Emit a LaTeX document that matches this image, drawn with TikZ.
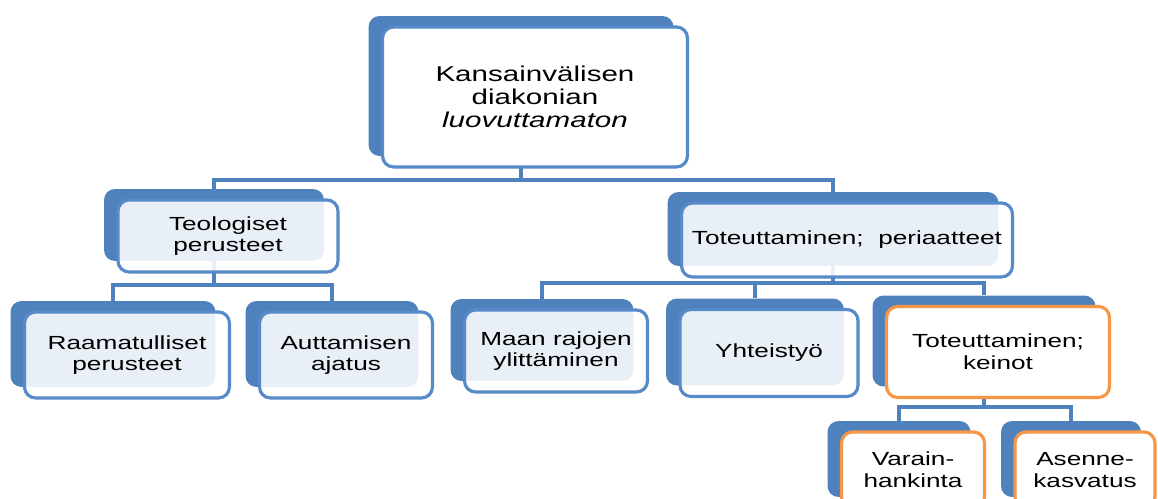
\documentclass[tikz,border=0pt]{standalone}
\usepackage{fontspec}
\setmainfont{Liberation Sans}[FakeStretch=1.38]
\usetikzlibrary{positioning, backgrounds}
\definecolor{Blue}{RGB}{79,129,189}
\definecolor{FrameBlue}{RGB}{86,138,200}
\definecolor{Orange}{RGB}{247,150,70}

\tikzset{
  card/.style 2 args={rectangle, rounded corners=0.22cm, inner sep=0pt,
    minimum width=#1, minimum height=#2},
  backbox/.style={fill=Blue, draw=none},
  frontbox/.style={draw=FrameBlue, line width=1.8pt, fill=white,
    fill opacity=0.88, text opacity=1, align=center,
    font=\fontsize{10.8}{12.4}\selectfont},
  keybox/.style={frontbox, draw=Orange, fill opacity=1},
  conn/.style={draw=Blue, line width=2pt},
}

\begin{document}
\begin{tikzpicture}[x=0.02cm, y=-0.02cm]

    \useasboundingbox (0,0) rectangle (1158,499);
    \clip (0,0) rectangle (1158,499);

    % top box
    \node[card={6.1cm}{2.8cm}, backbox] (top) at (521,86) {};
    \node[card={6.1cm}{2.8cm}, frontbox, fill opacity=1,
        font=\fontsize{12.2}{13}\selectfont] (top-f)
        at ([xshift=0.28cm, yshift=-0.22cm]top.center)
        {Kansainvälisen\\diakonian\\\textit{luovuttamaton}};

    % second row
    \node[card={4.4cm}{1.44cm}, backbox] (teo) at (214,225) {};
    \node[card={4.4cm}{1.44cm}, frontbox] (teo-f)
        at ([xshift=0.28cm, yshift=-0.22cm]teo.center) {Teologiset\\perusteet};

    \node[card={6.62cm}{1.48cm}, backbox] (tot) at (833,229) {};
    \node[card={6.62cm}{1.48cm}, frontbox] (tot-f)
        at ([xshift=0.28cm, yshift=-0.22cm]tot.center) {Toteuttaminen;~ periaatteet};

    % third row
    \node[card={4.1cm}{1.72cm}, backbox] (raa) at (113,344) {};
    \node[card={4.1cm}{1.72cm}, frontbox] (raa-f)
        at ([xshift=0.28cm, yshift=-0.22cm]raa.center) {Raamatulliset\\perusteet};

    \node[card={3.46cm}{1.72cm}, backbox] (aut) at (332,344) {};
    \node[card={3.46cm}{1.72cm}, frontbox] (aut-f)
        at ([xshift=0.28cm, yshift=-0.22cm]aut.center) {Auttamisen\\ajatus};

    \node[card={3.66cm}{1.64cm}, backbox] (maa) at (542,340) {};
    \node[card={3.66cm}{1.64cm}, frontbox] (maa-f)
        at ([xshift=0.28cm, yshift=-0.22cm]maa.center) {Maan rajojen\\ylittäminen};

    \node[card={3.56cm}{1.74cm}, backbox] (yht) at (755,342) {};
    \node[card={3.56cm}{1.74cm}, frontbox] (yht-f)
        at ([xshift=0.28cm, yshift=-0.22cm]yht.center) {Yhteistyö};

    \node[card={4.46cm}{1.82cm}, backbox] (kei) at (984,341) {};
    \node[card={4.46cm}{1.82cm}, keybox] (kei-f)
        at ([xshift=0.28cm, yshift=-0.22cm]kei.center) {Toteuttaminen;\\keinot};

    % bottom row
    \node[card={2.86cm}{1.52cm}, backbox] (var) at (899,459) {};
    \node[card={2.86cm}{1.52cm}, keybox] (var-f)
        at ([xshift=0.28cm, yshift=-0.22cm]var.center) {Varain-\\hankinta};

    \node[card={2.8cm}{1.52cm}, backbox] (ase) at (1071,459) {};
    \node[card={2.8cm}{1.52cm}, keybox] (ase-f)
        at ([xshift=0.28cm, yshift=-0.22cm]ase.center) {Asenne-\\kasvatus};

    % connectors
    \begin{scope}[on background layer]
        \coordinate (j1) at (521,180);
        \coordinate (j2) at (214,285);
        \coordinate (j3) at (833,283);
        \coordinate (j4) at (984,407);

        \draw[conn] (top.south) -- (j1) -| (teo.north);
        \draw[conn] (j1) -| (tot.north);

        \draw[conn] (teo.south) -- (j2) -| (raa.north);
        \draw[conn] (j2) -| (aut.north);

        \draw[conn] (tot.south) -- (j3) -| (maa.north);
        \draw[conn] (j3) -| (yht.north);
        \draw[conn] (j3) -| (kei.north);

        \draw[conn] (kei.south) -- (j4) -| (var.north);
        \draw[conn] (j4) -| (ase.north);
    \end{scope}

\end{tikzpicture}
\end{document}
